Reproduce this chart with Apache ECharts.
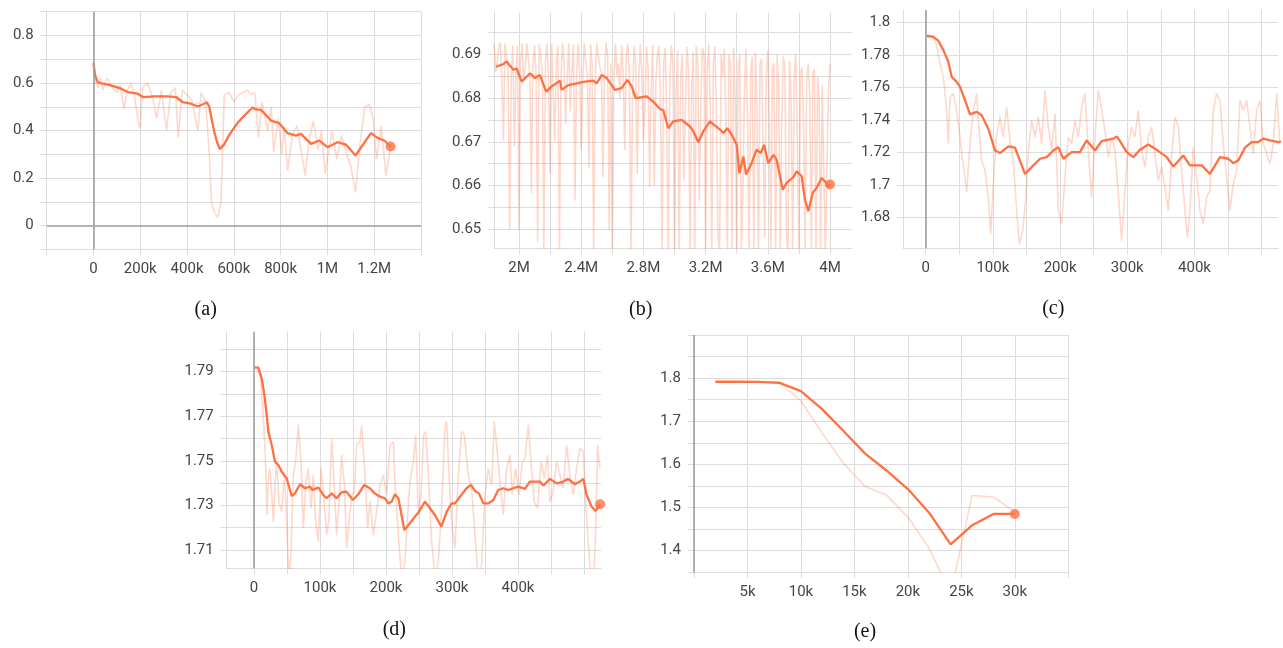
<!DOCTYPE html>
<html><head><meta charset="utf-8">
<script src="https://cdn.jsdelivr.net/npm/echarts@6/dist/echarts.min.js"></script>
<style>html,body{margin:0;padding:0;background:#fff}#c{width:1283px;height:648px}</style>
</head><body><div id="c"></div>
<script>
// ---- Panel (a) : steps in thousands ----
const aSmooth = [[0,0.684],[7,0.632],[18,0.604],[40,0.597],[75,0.590],[118,0.576],[147,0.562],[189,0.555],[211,0.541],[260,0.544],[317,0.544],[353,0.541],[381,0.520],[417,0.513],[446,0.501],[470,0.512],[485,0.519],[495,0.500],[505,0.450],[515,0.400],[527,0.355],[540,0.322],[548,0.320],[560,0.343],[578,0.378],[600,0.410],[620,0.437],[640,0.458],[660,0.478],[680,0.497],[690,0.490],[716,0.487],[759,0.442],[794,0.431],[830,0.389],[865,0.379],[887,0.386],[930,0.344],[965,0.358],[1000,0.330],[1043,0.351],[1079,0.341],[1120,0.295],[1186,0.389],[1214,0.369],[1243,0.358],[1270,0.333]];
const aRaw = [[0,0.68],[10,0.60],[20,0.58],[30,0.62],[40,0.57],[50,0.60],[60,0.62],[80,0.58],[100,0.56],[115,0.59],[130,0.49],[145,0.57],[160,0.60],[175,0.55],[190,0.44],[200,0.41],[210,0.58],[230,0.60],[250,0.55],[270,0.45],[290,0.57],[312,0.40],[330,0.56],[350,0.58],[362,0.37],[380,0.57],[400,0.55],[420,0.53],[446,0.40],[460,0.56],[480,0.52],[495,0.30],[505,0.09],[520,0.05],[531,0.035],[545,0.10],[559,0.55],[580,0.56],[600,0.52],[620,0.55],[640,0.56],[659,0.57],[675,0.55],[690,0.56],[705,0.37],[720,0.52],[745,0.40],[760,0.50],[770,0.31],[790,0.45],[805,0.30],[815,0.42],[830,0.23],[850,0.38],[870,0.42],[890,0.30],[905,0.21],[920,0.35],[940,0.44],[960,0.32],[975,0.40],[990,0.22],[1000,0.28],[1020,0.40],[1040,0.28],[1060,0.38],[1080,0.31],[1100,0.25],[1120,0.14],[1140,0.35],[1160,0.50],[1180,0.51],[1195,0.45],[1210,0.28],[1230,0.42],[1250,0.21],[1270,0.33]];
const aXGrid = [-200,0,200,400,600,800,1000,1200,1400];
const aXLabels = [0,200,400,600,800,1000,1200];
const aYGrid = [-0.1,0,0.1,0.2,0.3,0.4,0.5,0.6,0.7,0.8,0.9];
const aYLabels = [0,0.2,0.4,0.6,0.8];

// ---- Panel (b) ----
const bSmooth = [[1852,0.6872],[1899,0.6878],[1921,0.6884],[1938,0.6876],[1964,0.6865],[1985,0.6868],[2017,0.6838],[2049,0.6849],[2071,0.6857],[2103,0.6846],[2135,0.6853],[2174,0.6815],[2210,0.6827],[2264,0.6840],[2274,0.6819],[2317,0.6830],[2371,0.6834],[2424,0.6838],[2478,0.6840],[2499,0.6834],[2532,0.6853],[2564,0.6846],[2617,0.6819],[2660,0.6823],[2697,0.6842],[2725,0.6827],[2750,0.6800],[2821,0.6804],[2864,0.6792],[2907,0.6775],[2928,0.6772],[2960,0.6731],[2992,0.6747],[3046,0.6750],[3100,0.6735],[3121,0.6724],[3153,0.6699],[3185,0.6724],[3228,0.6747],[3260,0.6737],[3293,0.6728],[3314,0.6720],[3340,0.6731],[3368,0.6716],[3400,0.6693],[3417,0.6628],[3443,0.6666],[3460,0.6625],[3496,0.6651],[3528,0.6682],[3554,0.6674],[3576,0.6693],[3603,0.6651],[3636,0.6670],[3657,0.6659],[3696,0.6590],[3721,0.6606],[3764,0.6619],[3786,0.6632],[3818,0.6621],[3839,0.6567],[3861,0.6541],[3889,0.6583],[3914,0.6594],[3946,0.6617],[3968,0.6609],[3989,0.6598],[4000,0.6602]];
const bRaw = [[1840,0.6925],[1850,0.6860],[1860,0.6880],[1870,0.6915],[1880,0.6928],[1890,0.6840],[1900,0.6702],[1910,0.6925],[1920,0.6926],[1930,0.6870],[1940,0.6497],[1950,0.6850],[1960,0.6920],[1970,0.6690],[1980,0.6850],[1990,0.6920],[2000,0.6497],[2010,0.6880],[2020,0.6925],[2030,0.6840],[2040,0.6870],[2050,0.6926],[2060,0.6924],[2070,0.6855],[2080,0.6582],[2090,0.6880],[2100,0.6922],[2110,0.6845],[2120,0.6470],[2130,0.6924],[2140,0.6900],[2150,0.6860],[2160,0.6450],[2170,0.6880],[2180,0.6925],[2190,0.6845],[2200,0.6626],[2210,0.6925],[2220,0.6922],[2230,0.6700],[2240,0.6880],[2250,0.6920],[2260,0.6440],[2270,0.6850],[2280,0.6926],[2290,0.6880],[2300,0.6740],[2310,0.6845],[2320,0.6925],[2330,0.6770],[2340,0.6860],[2350,0.6922],[2360,0.6565],[2370,0.6850],[2380,0.6925],[2390,0.6860],[2400,0.6680],[2410,0.6840],[2420,0.6927],[2430,0.6880],[2440,0.6850],[2450,0.6640],[2460,0.6924],[2470,0.6880],[2480,0.6440],[2490,0.6850],[2500,0.6926],[2510,0.6925],[2520,0.6870],[2530,0.6860],[2540,0.6619],[2550,0.6850],[2560,0.6928],[2570,0.6900],[2580,0.6497],[2590,0.6880],[2600,0.6440],[2610,0.6840],[2620,0.6925],[2630,0.6850],[2640,0.6880],[2650,0.6800],[2660,0.6922],[2670,0.6860],[2680,0.6680],[2690,0.6900],[2700,0.6925],[2710,0.6850],[2720,0.6440],[2730,0.6800],[2740,0.6920],[2750,0.6880],[2760,0.6626],[2770,0.6840],[2780,0.6924],[2790,0.6860],[2800,0.6702],[2810,0.6780],[2820,0.6918],[2830,0.6870],[2840,0.6596],[2850,0.6820],[2860,0.6922],[2870,0.6600],[2880,0.6840],[2890,0.6900],[2900,0.6920],[2910,0.6800],[2920,0.6440],[2930,0.6880],[2940,0.6915],[2950,0.6760],[2960,0.6440],[2970,0.6840],[2980,0.6922],[2990,0.6880],[3000,0.6440],[3010,0.6800],[3020,0.6910],[3030,0.6440],[3040,0.6850],[3050,0.6900],[3060,0.6611],[3070,0.6780],[3080,0.6918],[3090,0.6860],[3100,0.6440],[3110,0.6820],[3120,0.6905],[3130,0.6440],[3140,0.6920],[3150,0.6880],[3160,0.6565],[3170,0.6800],[3180,0.6915],[3190,0.6900],[3200,0.6440],[3210,0.6860],[3220,0.6925],[3230,0.6780],[3240,0.6440],[3250,0.6880],[3260,0.6918],[3270,0.6760],[3280,0.6480],[3290,0.6440],[3300,0.6900],[3310,0.6850],[3320,0.6912],[3330,0.6760],[3340,0.6440],[3350,0.6900],[3360,0.6880],[3370,0.6440],[3380,0.6916],[3390,0.6800],[3400,0.6440],[3410,0.6880],[3420,0.6900],[3430,0.6440],[3440,0.6596],[3450,0.6820],[3460,0.6912],[3470,0.6740],[3480,0.6440],[3490,0.6860],[3500,0.6895],[3510,0.6440],[3520,0.6905],[3530,0.6780],[3540,0.6440],[3550,0.6880],[3560,0.6890],[3570,0.6700],[3580,0.6480],[3590,0.6850],[3600,0.6910],[3610,0.6760],[3620,0.6440],[3630,0.6870],[3640,0.6880],[3650,0.6440],[3660,0.6900],[3670,0.6820],[3680,0.6440],[3690,0.6760],[3700,0.6895],[3710,0.6870],[3720,0.6480],[3730,0.6440],[3740,0.6885],[3750,0.6800],[3760,0.6440],[3770,0.6850],[3780,0.6900],[3790,0.6700],[3800,0.6440],[3810,0.6860],[3820,0.6870],[3830,0.6740],[3840,0.6440],[3850,0.6840],[3860,0.6880],[3870,0.6800],[3880,0.6440],[3890,0.6860],[3900,0.6865],[3910,0.6440],[3920,0.6850],[3930,0.6800],[3940,0.6440],[3950,0.6830],[3960,0.6830],[3970,0.6440],[3980,0.6440],[3990,0.6820],[4000,0.6880]];
const bXGrid = [2000,2200,2400,2600,2800,3000,3200,3400,3600,3800,4000];
const bXLabels = [2000,2400,2800,3200,3600,4000];
const bYGrid = [0.65,0.655,0.66,0.665,0.67,0.675,0.68,0.685,0.69,0.695];
const bYLabels = [0.65,0.66,0.67,0.68,0.69];

// ---- Panel (c) ----
const cSmooth = [[1.5,1.7918],[11.4,1.7913],[18.8,1.7889],[26.3,1.7831],[33.7,1.7759],[38.7,1.7666],[46.1,1.7635],[51.1,1.7604],[58.5,1.7522],[66,1.7435],[75.9,1.7450],[83.3,1.7429],[93.2,1.7346],[103.2,1.7212],[110.6,1.7196],[123,1.7237],[132.9,1.7229],[147.8,1.7068],[160.2,1.7120],[170.1,1.7161],[180,1.7171],[190,1.7212],[197.4,1.7233],[204.8,1.7161],[217.2,1.7202],[229.6,1.7202],[239.6,1.7274],[252,1.7212],[261.9,1.7270],[279.2,1.7285],[284.2,1.7299],[289.2,1.7270],[299.1,1.7202],[309,1.7171],[318.9,1.7216],[331.3,1.7249],[343.7,1.7216],[358.6,1.7171],[368.5,1.7113],[383.4,1.7181],[393.3,1.7120],[410.7,1.7120],[423.1,1.7068],[438,1.7171],[450.4,1.7161],[457.8,1.7134],[465.2,1.7151],[475.2,1.7229],[485.1,1.7264],[495,1.7264],[502.4,1.7285],[512.4,1.7274],[524.8,1.7264],[530,1.7268]];
const cRaw = [[0,1.792],[11.4,1.792],[16.4,1.7852],[21.3,1.7748],[26.3,1.7666],[31.2,1.7460],[33.7,1.7254],[36.2,1.7542],[41.2,1.7563],[46.1,1.7460],[51.1,1.7295],[53.6,1.7192],[58.5,1.7047],[61,1.6955],[66,1.7254],[70.9,1.7460],[75.9,1.7563],[78.4,1.7398],[83.3,1.7151],[88.3,1.7089],[93.2,1.6924],[96.7,1.6697],[100.7,1.7006],[105.6,1.7305],[110.6,1.7419],[115.6,1.7295],[120.5,1.7480],[125.5,1.7274],[130.4,1.7151],[135.4,1.6841],[139.4,1.6635],[144.3,1.6718],[149.3,1.6924],[152.8,1.7212],[157.7,1.7398],[162.7,1.7295],[167.6,1.7419],[172.6,1.7254],[177.6,1.7584],[182.5,1.7357],[187.5,1.7212],[192.4,1.7439],[197.4,1.6841],[202.4,1.6759],[207.3,1.7047],[212.3,1.7295],[217.2,1.7254],[222.2,1.7398],[227.2,1.7295],[232.1,1.7480],[237.1,1.7563],[242,1.7212],[247,1.6924],[252,1.7295],[256.9,1.7584],[261.9,1.7460],[266.8,1.7336],[271.8,1.7171],[276.8,1.7295],[281.7,1.7212],[286.7,1.6944],[291.6,1.6656],[296.6,1.6965],[301.6,1.7254],[306.5,1.7357],[311.5,1.7295],[316.4,1.7460],[321.4,1.7212],[326.4,1.7109],[331.3,1.7295],[336.3,1.7357],[341.2,1.7192],[346.2,1.7027],[351.2,1.7109],[356.1,1.6986],[361.1,1.6841],[366,1.7171],[371,1.7419],[376,1.7357],[380.9,1.7089],[385.9,1.6841],[389.4,1.6676],[393.3,1.6841],[398.3,1.7233],[403.2,1.7047],[408.2,1.6841],[413.2,1.6759],[418.1,1.6924],[423.1,1.6965],[428,1.7460],[433,1.7563],[438,1.7522],[442.9,1.7254],[447.9,1.7047],[452.8,1.6841],[457.8,1.7006],[462.8,1.7089],[467.7,1.7522],[472.7,1.7460],[477.6,1.7522],[482.6,1.7357],[487.6,1.7192],[492.5,1.7460],[497.5,1.7522],[502.4,1.7254],[507.4,1.7192],[512.4,1.7130],[517.3,1.7254],[522.3,1.7563],[527.2,1.7254]];
const cXGrid = [0,50,100,150,200,250,300,350,400,450,500];
const cXLabels = [0,100,200,300,400];
const cYGrid = [1.68,1.70,1.72,1.74,1.76,1.78,1.80];
const cYLabels = [1.68,1.70,1.72,1.74,1.76,1.78,1.80];

// ---- Panel (d) ----
const dSmooth = [[1.5,1.7919],[6.6,1.7918],[11.6,1.7870],[15.7,1.7795],[19.2,1.7706],[21.7,1.7631],[26.8,1.7571],[31.8,1.7496],[36.9,1.7481],[41.9,1.7451],[49.5,1.7421],[57,1.7342],[62,1.7354],[69.7,1.7395],[77.3,1.7377],[84.8,1.7384],[88.4,1.7369],[97.5,1.7380],[105,1.7347],[110,1.7332],[117.7,1.7354],[125,1.7332],[132.8,1.7359],[140,1.7362],[150,1.7324],[158,1.7350],[167,1.7392],[175.7,1.7377],[183,1.7354],[190.9,1.7339],[198.5,1.7332],[203.5,1.7309],[208.6,1.7317],[213.6,1.7350],[218.7,1.7332],[227.8,1.7190],[236.3,1.7220],[244,1.7250],[250,1.7272],[259,1.7317],[265,1.7294],[274,1.7257],[284,1.7205],[292,1.7272],[299.5,1.7309],[304.5,1.7309],[312,1.7339],[322,1.7377],[328.8,1.7392],[334.8,1.7365],[340.9,1.7354],[347.4,1.7309],[355,1.7309],[362.6,1.7324],[370,1.7369],[377.7,1.7377],[385.3,1.7369],[392.9,1.7377],[400.5,1.7384],[410.6,1.7374],[418,1.7407],[425.7,1.7407],[433.3,1.7407],[438.3,1.7389],[448.4,1.7419],[458.5,1.7399],[468.6,1.7407],[476,1.7419],[486.3,1.7395],[493.9,1.7407],[499,1.7419],[504,1.7347],[511.6,1.7294],[517.6,1.7275],[524.5,1.7305]];
const dRaw = [[1.5,1.7919],[9.1,1.7885],[12.6,1.7765],[15.7,1.7616],[17.7,1.7466],[19.7,1.7257],[21.7,1.7421],[24.2,1.7466],[26.8,1.7347],[29.3,1.7227],[31.8,1.7392],[34.3,1.7496],[37.9,1.7317],[41.9,1.7272],[46,1.7436],[49.5,1.7227],[53,1.6970],[56.1,1.7093],[59.6,1.7436],[63.1,1.7496],[67.2,1.7661],[71.2,1.7496],[74.7,1.7197],[78.3,1.7392],[82.3,1.7466],[86.4,1.7287],[89.9,1.7436],[93.4,1.7227],[97.5,1.7137],[101.5,1.7466],[105,1.7362],[110.1,1.7167],[113.6,1.7242],[117.7,1.7601],[121.7,1.7392],[125.2,1.7167],[128.8,1.7317],[132.8,1.7526],[136.9,1.7392],[140.4,1.7107],[143.9,1.7227],[148,1.7347],[152,1.7362],[155.5,1.7571],[160.6,1.7586],[163.1,1.7661],[168.2,1.7436],[172.2,1.7197],[175.7,1.7317],[180.8,1.7167],[185.8,1.7272],[190.9,1.7392],[195.9,1.7436],[201,1.7347],[206,1.7571],[211.1,1.7586],[214.6,1.7347],[218.7,1.7167],[223.7,1.6970],[228.8,1.7048],[232.8,1.7257],[236.3,1.7407],[241.4,1.7496],[244.9,1.7616],[249,1.7257],[253,1.7347],[257,1.7616],[260.1,1.7631],[264.1,1.7436],[269.2,1.7137],[274.2,1.6970],[279.3,1.7048],[284.3,1.7287],[289.4,1.7661],[291.9,1.7676],[295.4,1.7436],[299.5,1.7227],[304.5,1.7107],[309.6,1.7436],[314.6,1.7631],[318.7,1.7616],[324.7,1.7436],[329.8,1.7377],[334.8,1.7167],[339.9,1.6970],[344.9,1.7033],[350,1.7347],[355,1.7466],[360.1,1.7392],[364.1,1.7676],[367.6,1.7571],[372.7,1.7407],[377.7,1.7257],[382.8,1.7466],[387.8,1.7526],[391.4,1.7347],[396.4,1.7466],[401.5,1.7347],[406.5,1.7496],[410.6,1.7511],[415.6,1.7661],[419.7,1.7496],[424.7,1.7317],[429.8,1.7287],[434.8,1.7496],[439.9,1.7421],[444.9,1.7526],[448.4,1.7317],[453.5,1.7362],[458.5,1.7496],[463.6,1.7436],[468.6,1.7377],[473.7,1.7571],[478.7,1.7436],[483.8,1.7347],[488.8,1.7466],[493.9,1.7556],[498.9,1.7541],[502.5,1.7317],[506.5,1.7137],[510.6,1.6970],[514.1,1.6950],[517.6,1.7167],[520.7,1.7571],[524.2,1.7466]];
const dXGrid = [0,50,100,150,200,250,300,350,400,450,500];
const dXLabels = [0,100,200,300,400];
const dYGrid = [1.71,1.72,1.73,1.74,1.75,1.76,1.77,1.78,1.79,1.80];
const dYLabels = [1.71,1.73,1.75,1.77,1.79];

// ---- Panel (e) ----
const eSmooth = [[2,1.7917],[4,1.7917],[6,1.7915],[8,1.7890],[10,1.7700],[12,1.7275],[14,1.6770],[16,1.6250],[18,1.5860],[20,1.5430],[22,1.4875],[24,1.4145],[26,1.4590],[28,1.4852],[30,1.4852]];
const eRaw = [[2,1.7917],[4,1.7917],[6,1.7917],[8,1.7915],[10,1.7470],[12,1.6720],[14,1.6020],[16,1.5490],[18,1.5290],[20,1.4780],[22,1.4050],[24,1.3000],[26,1.5280],[28,1.5245],[30,1.4900]];
const eXGrid = [0,5,10,15,20,25,30,35];
const eXLabels = [5,10,15,20,25,30];
const eYGrid = [1.35,1.40,1.45,1.50,1.55,1.60,1.65,1.70,1.75,1.80,1.85,1.90];
const eYLabels = [1.4,1.5,1.6,1.7,1.8];

const GRIDC = '#dcdcdc', ZEROC = '#a0a0a0', LINEC = '#ff7043', RAWC = 'rgba(255,112,67,0.27)', TXT = '#454545';

function fmtX(v){ if (Math.abs(v) < 1e-9) return '0'; if (v >= 1000) return (+(v/1000).toFixed(3)) + 'M'; return (+v.toFixed(3)) + 'k'; }
function fmtY(v){ return String(+v.toFixed(4)); }

const panels = [
  {rect:{left:46.7, top:11.7, width:374.3, height:237.7}, x:[-200,1400], y:[-0.1,0.9], xg:aXGrid, xl:aXLabels, yg:aYGrid, yl:aYLabels, raw:aRaw, sm:aSmooth, dot:true, zx:true, zy:true, cap:'(a)', cp:[205.7,310]},
  {rect:{left:494.3, top:12.3, width:357.4, height:236}, x:[1841.2,4139.5], y:[0.64558,0.69968], xg:bXGrid, xl:bXLabels, yg:bYGrid, yl:bYLabels, raw:bRaw, sm:bSmooth, dot:true, zx:false, zy:false, cap:'(b)', cp:[640.7,310]},
  {rect:{left:903.3, top:10, width:374.7, height:238.3}, x:[-33.3,524.3], y:[1.66088,1.80783], xg:cXGrid, xl:cXLabels, yg:cYGrid, yl:cYLabels, raw:cRaw, sm:cSmooth, dot:false, zx:true, zy:false, cap:'(c)', cp:[1053.3,308.5]},
  {rect:{left:226.7, top:331.7, width:374.3, height:236.6}, x:[-41.4,525.8], y:[1.7018,1.8079], xg:dXGrid, xl:dXLabels, yg:dYGrid, yl:dYLabels, raw:dRaw, sm:dSmooth, dot:true, zx:true, zy:false, cap:'(d)', cp:[394.3,630]},
  {rect:{left:694, top:335, width:374.3, height:237.3}, x:[0,35], y:[1.35,1.9], xg:eXGrid, xl:eXLabels, yg:eYGrid, yl:eYLabels, raw:eRaw, sm:eSmooth, dot:true, zx:true, zy:false, cap:'(e)', cp:[865,631.5]}
];

const grids = [], xAxes = [], yAxes = [], series = [], graphics = [];
panels.forEach((p, i) => {
  grids.push(Object.assign({containLabel:false}, p.rect));
  xAxes.push({type:'value', gridIndex:i, min:p.x[0], max:p.x[1], position:'bottom',
    axisLine:{show:true, onZero:false, lineStyle:{color:GRIDC, width:1}},
    axisTick:{show:true, length:6, customValues:p.xg, lineStyle:{color:GRIDC, width:1}},
    splitLine:{show:true, lineStyle:{color:GRIDC, width:1}},
    axisLabel:{customValues:p.xl, formatter:fmtX, margin:12, color:TXT, fontSize:15, fontFamily:'Roboto'}});
  yAxes.push({type:'value', gridIndex:i, min:p.y[0], max:p.y[1], position:'left',
    axisLine:{show:true, onZero:false, lineStyle:{color:GRIDC, width:1}},
    axisTick:{show:true, length:6, customValues:p.yg, lineStyle:{color:GRIDC, width:1}},
    splitLine:{show:true, lineStyle:{color:GRIDC, width:1}},
    axisLabel:{customValues:p.yl, formatter:fmtY, margin:13, color:TXT, fontSize:15, fontFamily:'Roboto'}});
  const ml = [];
  if (p.zx) ml.push({xAxis:0});
  if (p.zy) ml.push({yAxis:0});
  series.push({type:'line', xAxisIndex:i, yAxisIndex:i, data:p.raw, symbol:'none', z:2, silent:true,
    lineStyle:{color:RAWC, width:1.6}, clip:true,
    markLine: ml.length ? {silent:true, symbol:['none','none'], label:{show:false}, animation:false,
      lineStyle:{color:ZEROC, width:1.6, type:'solid'}, emphasis:{disabled:true}, data:ml} : undefined});
  series.push({type:'line', xAxisIndex:i, yAxisIndex:i, data:p.sm, symbol:'none', z:3, silent:true,
    lineStyle:{color:LINEC, width:2.3}, clip:true});
  if (p.dot) series.push({type:'scatter', xAxisIndex:i, yAxisIndex:i, data:[p.sm[p.sm.length-1]], symbol:'circle', symbolSize:10, z:4, silent:true, itemStyle:{color:LINEC}});
  graphics.push({type:'text', x:p.cp[0], y:p.cp[1], style:{text:p.cap, align:'center', verticalAlign:'middle', font:'20px "Liberation Serif"', fill:'#111'}});
});

const chart = echarts.init(document.getElementById('c'), null, {renderer:'canvas'});
chart.setOption({backgroundColor:'#fff', animation:false, grid:grids, xAxis:xAxes, yAxis:yAxes, series:series, graphic:graphics});
</script></body></html>
